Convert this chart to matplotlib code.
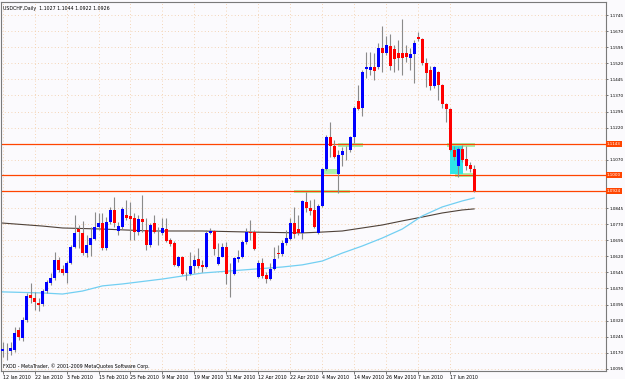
import numpy as np
import matplotlib.pyplot as plt
from matplotlib.patches import Rectangle
from matplotlib.transforms import blended_transform_factory

plt.rcParams['font.family'] = ['DejaVu Sans']

# USDCHF daily bars, 12 Jan 2010 .. 25 Jun 2010
opens = [1.0179, 1.0183, 1.0179, 1.0183, 1.0276, 1.0239, 1.0323, 1.0440, 1.0426, 1.0402,
         1.0398, 1.0458, 1.0496, 1.0519, 1.0603, 1.0561, 1.0542, 1.0589, 1.0663, 1.0747,
         1.0729, 1.0635, 1.0673, 1.0701, 1.0757, 1.0775, 1.0659, 1.0780, 1.0836, 1.0738,
         1.0757, 1.0813, 1.0808, 1.0799, 1.0733, 1.0794, 1.0743, 1.0673, 1.0775, 1.0729,
         1.0729, 1.0747, 1.0696, 1.0682, 1.0575, 1.0617, 1.0542, 1.0538, 1.0575, 1.0607,
         1.0580, 1.0570, 1.0729, 1.0738, 1.0584, 1.0617, 1.0663, 1.0538, 1.0538, 1.0607,
         1.0617, 1.0687, 1.0733, 1.0733, 1.0524, 1.0589, 1.0533, 1.0514, 1.0561, 1.0635,
         1.0631, 1.0682, 1.0701, 1.0775, 1.0747, 1.0729, 1.0873, 1.0845, 1.0836, 1.0729,
         1.0855, 1.1027, 1.1176, 1.1134, 1.1004, 1.1092, 1.1116, 1.1116, 1.1176, 1.1344,
         1.1311, 1.1493, 1.1489, 1.1503, 1.1503, 1.1591, 1.1568, 1.1600, 1.1586, 1.1568,
         1.1568, 1.1568, 1.1545, 1.1563, 1.1642, 1.1633, 1.1521, 1.1489, 1.1414, 1.1479,
         1.1419, 1.1330, 1.1307, 1.1116, 1.1041, 1.1120, 1.1074, 1.1046, 1.1027]
highs = [1.0221, 1.0216, 1.0221, 1.0290, 1.0290, 1.0337, 1.0449, 1.0496, 1.0454, 1.0426,
         1.0468, 1.0510, 1.0542, 1.0640, 1.0617, 1.0580, 1.0598, 1.0673, 1.0813, 1.0766,
         1.0785, 1.0719, 1.0757, 1.0827, 1.0822, 1.0822, 1.0803, 1.0850, 1.0897, 1.0780,
         1.0850, 1.0883, 1.0873, 1.0822, 1.0813, 1.0906, 1.0799, 1.0775, 1.0813, 1.0757,
         1.0799, 1.0799, 1.0705, 1.0691, 1.0621, 1.0621, 1.0547, 1.0640, 1.0626, 1.0659,
         1.0603, 1.0743, 1.0752, 1.0743, 1.0682, 1.0682, 1.0687, 1.0589, 1.0617, 1.0649,
         1.0696, 1.0752, 1.0789, 1.0743, 1.0603, 1.0612, 1.0547, 1.0589, 1.0663, 1.0673,
         1.0696, 1.0743, 1.0799, 1.0850, 1.0813, 1.0883, 1.0920, 1.0883, 1.0887, 1.0864,
         1.1032, 1.1186, 1.1246, 1.1162, 1.1116, 1.1130, 1.1134, 1.1181, 1.1321, 1.1419,
         1.1489, 1.1573, 1.1573, 1.1568, 1.1614, 1.1694, 1.1647, 1.1656, 1.1605, 1.1628,
         1.1726, 1.1605, 1.1591, 1.1628, 1.1666, 1.1638, 1.1545, 1.1507, 1.1507, 1.1484,
         1.1423, 1.1335, 1.1311, 1.1134, 1.1130, 1.1139, 1.1134, 1.1060, 1.1044]
lows = [1.0151, 1.0137, 1.0160, 1.0174, 1.0230, 1.0225, 1.0314, 1.0402, 1.0370, 1.0365,
        1.0388, 1.0449, 1.0486, 1.0510, 1.0547, 1.0533, 1.0496, 1.0584, 1.0659, 1.0659,
        1.0626, 1.0617, 1.0621, 1.0696, 1.0743, 1.0649, 1.0649, 1.0771, 1.0757, 1.0719,
        1.0747, 1.0789, 1.0696, 1.0696, 1.0719, 1.0733, 1.0649, 1.0663, 1.0729, 1.0673,
        1.0719, 1.0687, 1.0668, 1.0575, 1.0570, 1.0533, 1.0510, 1.0533, 1.0542, 1.0566,
        1.0547, 1.0566, 1.0724, 1.0626, 1.0580, 1.0615, 1.0491, 1.0430, 1.0533, 1.0593,
        1.0612, 1.0677, 1.0696, 1.0649, 1.0519, 1.0519, 1.0496, 1.0510, 1.0556, 1.0612,
        1.0621, 1.0673, 1.0696, 1.0705, 1.0719, 1.0701, 1.0827, 1.0813, 1.0752, 1.0724,
        1.0850, 1.1022, 1.1083, 1.1078, 1.0915, 1.1041, 1.1069, 1.1106, 1.1148, 1.1302,
        1.1274, 1.1451, 1.1465, 1.1442, 1.1493, 1.1479, 1.1559, 1.1489, 1.1479, 1.1489,
        1.1465, 1.1526, 1.1489, 1.1428, 1.1624, 1.1512, 1.1409, 1.1395, 1.1405, 1.1349,
        1.1311, 1.1246, 1.1111, 1.1069, 1.0990, 1.1060, 1.1022, 1.1013, 1.0922]
closes = [1.0188, 1.0184, 1.0193, 1.0262, 1.0244, 1.0323, 1.0435, 1.0426, 1.0407, 1.0393,
          1.0458, 1.0500, 1.0519, 1.0603, 1.0556, 1.0542, 1.0589, 1.0663, 1.0729, 1.0733,
          1.0635, 1.0673, 1.0705, 1.0757, 1.0775, 1.0659, 1.0780, 1.0836, 1.0775, 1.0761,
          1.0841, 1.0799, 1.0794, 1.0733, 1.0794, 1.0780, 1.0673, 1.0766, 1.0733, 1.0728,
          1.0752, 1.0691, 1.0677, 1.0580, 1.0617, 1.0538, 1.0541, 1.0575, 1.0603, 1.0575,
          1.0570, 1.0729, 1.0738, 1.0654, 1.0617, 1.0663, 1.0538, 1.0537, 1.0612, 1.0617,
          1.0687, 1.0733, 1.0729, 1.0654, 1.0589, 1.0528, 1.0514, 1.0561, 1.0607, 1.0631,
          1.0682, 1.0705, 1.0775, 1.0724, 1.0729, 1.0878, 1.0845, 1.0831, 1.0757, 1.0855,
          1.1027, 1.1176, 1.1134, 1.1083, 1.1092, 1.1111, 1.1115, 1.1176, 1.1311, 1.1307,
          1.1479, 1.1503, 1.1503, 1.1484, 1.1591, 1.1568, 1.1605, 1.1507, 1.1540, 1.1545,
          1.1545, 1.1549, 1.1563, 1.1614, 1.1633, 1.1521, 1.1475, 1.1414, 1.1503, 1.1419,
          1.1330, 1.1307, 1.1116, 1.1083, 1.1120, 1.1069, 1.1041, 1.1027, 1.0926]

# moving averages (sampled at bar indices)
slow_ma_bars = [0, 10, 15, 25, 37, 50, 62, 75, 80, 85, 90, 95, 100, 105, 110, 115, 118]
slow_ma = [1.0775, 1.0761, 1.0752, 1.0747, 1.0738, 1.0738, 1.0733, 1.0729, 1.0733, 1.0738,
           1.0752, 1.0766, 1.0785, 1.0803, 1.0822, 1.0836, 1.0841]
fast_ma_bars = [0, 10, 15, 20, 25, 30, 40, 50, 60, 70, 75, 80, 85, 90, 95, 100, 105, 110, 115, 118]
fast_ma = [1.0454, 1.0449, 1.0444, 1.0458, 1.0482, 1.0491, 1.0514, 1.0542, 1.0556, 1.0570,
           1.0580, 1.0598, 1.0635, 1.0668, 1.0705, 1.0747, 1.0808, 1.0850, 1.0878, 1.0892]

levels = [1.1143, 1.1000, 1.0924]
# highlighted zones: (first bar, last bar, low, high)
green_zones = [(73, 87, 1.0915, 1.0929), (80.2, 83.8, 1.1004, 1.1027),
               (84, 90.3, 1.1130, 1.1148), (111.2, 118.3, 1.1130, 1.1148),
               (113.2, 117.8, 1.0990, 1.1009)]
cyan_zone = (112, 115.3, 1.1004, 1.1134)

date_ticks = list(range(0, 113, 8))
date_labels = ['12 Jan 2010', '22 Jan 2010', '3 Feb 2010', '15 Feb 2010', '25 Feb 2010',
               '9 Mar 2010', '19 Mar 2010', '31 Mar 2010', '12 Apr 2010', '22 Apr 2010',
               '4 May 2010', '14 May 2010', '26 May 2010', '7 Jun 2010', '17 Jun 2010']
price_ticks = [1.0095, 1.0170, 1.0245, 1.0320, 1.0395, 1.0470, 1.0545, 1.0620, 1.0695,
               1.0770, 1.0845, 1.1070, 1.1220, 1.1295, 1.1370, 1.1445, 1.1520, 1.1595,
               1.1670, 1.1745]

bg = '#fbfafd'
fig = plt.figure(figsize=(6.25, 3.79), dpi=100)
fig.patch.set_facecolor(bg)
ax = fig.add_axes([1 / 625, 8 / 379, 605 / 625, 369 / 379])
ax.set_facecolor(bg)

# dotted grid
for p in price_ticks:
    ax.axhline(p, color='#f2c9a0', lw=0.6, ls=(0, (1, 3)), zorder=0)
for t in date_ticks:
    ax.axvline(t, color='#f2c9a0', lw=0.6, ls=(0, (1, 3)), zorder=0)

# zones
for x0, x1, lo, hi in green_zones:
    ax.add_patch(Rectangle((x0, lo), x1 - x0, hi - lo, fc='#8fee8f', ec='none', alpha=0.75, zorder=1))
x0, x1, lo, hi = cyan_zone
ax.add_patch(Rectangle((x0, lo), x1 - x0, hi - lo, fc='#2ee6e6', ec='none', zorder=1))

for lv in levels:
    ax.axhline(lv, color='#ff4500', lw=0.9, zorder=1.5)

ax.plot(slow_ma_bars, slow_ma, color='#4f4239', lw=0.8, zorder=2)
ax.plot(fast_ma_bars, fast_ma, color='#72cff2', lw=0.9, zorder=2)

# candles
o = np.array(opens)
c = np.array(closes)
bars = np.arange(len(o))
ax.vlines(bars, lows, highs, color='#8a8a8a', lw=0.8, zorder=3)
bottom = np.minimum(o, c)
height = np.maximum(np.abs(c - o), 0.00012)
colors = np.where(c > o, '#0000ff', np.where(c < o, '#ff0000', '#303030'))
ax.bar(bars, height, bottom=bottom, width=0.72, color=colors, lw=0, zorder=4)

ax.set_xlim(-0.4, 151)
ax.set_ylim(1.0085, 1.1806)

ax.set_xticks(date_ticks)
ax.set_xticklabels(date_labels, ha='left', fontsize=3.3)
ax.tick_params(axis='x', length=2, width=0.5, pad=1, color='#404040')
ax.yaxis.tick_right()
ax.set_yticks(price_ticks)
ax.set_yticklabels([f'{p:.4f}' for p in price_ticks], fontsize=3.0)
ax.tick_params(axis='y', length=1.5, width=0.5, pad=1, color='#404040')
for s in ax.spines.values():
    s.set_color('#7a7a7a')
    s.set_linewidth(0.8)

trans = blended_transform_factory(ax.transAxes, ax.transData)
for lv in levels:
    ax.text(1.001, lv, f'{lv:.4f}', transform=trans, color='white', fontsize=3.0,
            va='center', ha='left', clip_on=False,
            bbox=dict(boxstyle='square,pad=0.25', fc='#ff4500', ec='none'))

ax.text(0.004, 0.988, 'USDCHF,Daily  1.1027 1.1044 1.0922 1.0926', transform=ax.transAxes,
        fontsize=3.4, va='top', ha='left', color='black')
ax.text(0.003, 0.014, 'FXDD - MetaTrader, \u00a9 2001-2009 MetaQuotes Software Corp.',
        transform=ax.transAxes, fontsize=3.4, va='center', ha='left', color='black')

fig.savefig('out.png', dpi=100, facecolor=bg)
